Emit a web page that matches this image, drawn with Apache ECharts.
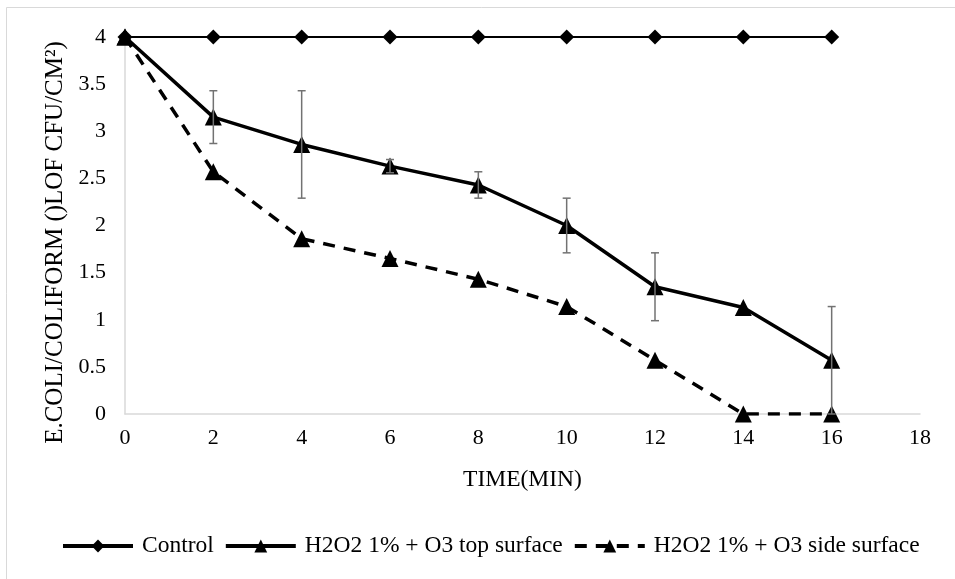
<!DOCTYPE html>
<html>
<head>
<meta charset="utf-8">
<script src="https://cdn.jsdelivr.net/npm/echarts@6/dist/echarts.min.js"></script>
<style>
  html, body { margin: 0; padding: 0; background: #fff; }
  #chart { width: 955px; height: 579px; }
</style>
</head>
<body>
<div id="chart"></div>
<script>
// Sampling times (min)
const times = [0, 2, 4, 6, 8, 10, 12, 14, 16];
// log CFU/cm² counts
const controlValues = [4, 4, 4, 4, 4, 4, 4, 4, 4];
const topValues = [4, 3.15, 2.86, 2.63, 2.43, 2.0, 1.35, 1.13, 0.57];
const topErrors = [0, 0.28, 0.57, 0.07, 0.14, 0.29, 0.36, 0, 0.57];
const sideValues = [4, 2.57, 1.86, 1.65, 1.43, 1.14, 0.57, 0, 0];
// Axis ticks
const xTicks = { min: 0, max: 18, step: 2 };
const yTicks = { min: 0, max: 4, step: 0.5 };

const seriesNames = ['Control', 'H2O2 1% + O3 top surface', 'H2O2 1% + O3 side surface'];

const font = 'Liberation Serif, Times New Roman, serif';
const pair = (vals) => times.map((t, i) => [t, vals[i]]);

const chart = echarts.init(document.getElementById('chart'));
chart.setOption({
  backgroundColor: '#fff',
  animation: false,
  textStyle: { fontFamily: font, color: '#000' },
  graphic: [{
    type: 'rect',
    shape: { x: 6.5, y: 7.5, width: 1000, height: 1000 },
    style: { fill: 'none', stroke: '#d9d9d9', lineWidth: 1 },
    silent: true, z: -1
  }],
  grid: { left: 125, right: 35, top: 37, bottom: 165 },
  legend: {
    bottom: 16,
    left: 56,
    itemWidth: 70,
    itemHeight: 16,
    itemGap: 10,
    lineStyle: { width: 4 },
    textStyle: { fontFamily: font, fontSize: 23.5, color: '#000', padding: [0, 0, 0, 4] },
    data: seriesNames
  },
  xAxis: {
    type: 'value',
    min: xTicks.min, max: xTicks.max, interval: xTicks.step,
    name: 'TIME(MIN)',
    nameLocation: 'middle',
    nameGap: 54,
    nameTextStyle: { fontFamily: font, fontSize: 23.5, color: '#000' },
    axisLine: { show: true, lineStyle: { color: '#d9d9d9', width: 1.5 } },
    axisTick: { show: false },
    splitLine: { show: false },
    axisLabel: { fontFamily: font, fontSize: 22, color: '#000', margin: 13 }
  },
  yAxis: {
    type: 'value',
    min: yTicks.min, max: yTicks.max, interval: yTicks.step,
    name: 'E.COLI/COLIFORM ()LOF CFU/CM²)',
    nameLocation: 'middle',
    nameGap: 56,
    nameTextStyle: { fontFamily: font, fontSize: 25, color: '#000', padding: [0, 34, 0, 0] },
    axisLine: { show: true, lineStyle: { color: '#d9d9d9', width: 1.5 } },
    axisTick: { show: false },
    splitLine: { show: false },
    axisLabel: { fontFamily: font, fontSize: 22, color: '#000', margin: 19 }
  },
  series: [
    {
      name: seriesNames[0],
      type: 'line',
      data: pair(controlValues),
      symbol: 'diamond',
      symbolSize: 15,
      itemStyle: { color: '#000' },
      lineStyle: { color: '#000', width: 2 },
      z: 3
    },
    {
      name: seriesNames[1],
      type: 'line',
      data: pair(topValues),
      symbol: 'triangle',
      symbolSize: 17,
      itemStyle: { color: '#000' },
      lineStyle: { color: '#000', width: 3.5 },
      z: 3
    },
    {
      name: seriesNames[2],
      type: 'line',
      data: pair(sideValues),
      symbol: 'triangle',
      symbolSize: 17,
      itemStyle: { color: '#000' },
      lineStyle: { color: '#000', width: 3.5, type: [12, 9] },
      z: 3
    },
    {
      // Error bars on the top-surface series
      type: 'custom',
      data: times.map((t, i) => [t, topValues[i], topErrors[i]]),
      z: 4,
      silent: true,
      renderItem: function (params, api) {
        const x = api.value(0), y = api.value(1), e = api.value(2);
        if (!e) return { type: 'group', children: [] };
        const hi = api.coord([x, y + e]);
        const lo = api.coord([x, Math.max(0, y - e)]);
        const hw = 4;
        const style = { stroke: '#727272', lineWidth: 1.5 };
        return {
          type: 'group',
          children: [
            { type: 'line', shape: { x1: hi[0], y1: hi[1], x2: lo[0], y2: lo[1] }, style },
            { type: 'line', shape: { x1: hi[0] - hw, y1: hi[1], x2: hi[0] + hw, y2: hi[1] }, style },
            { type: 'line', shape: { x1: lo[0] - hw, y1: lo[1], x2: lo[0] + hw, y2: lo[1] }, style }
          ]
        };
      }
    }
  ]
});
</script>
</body>
</html>
